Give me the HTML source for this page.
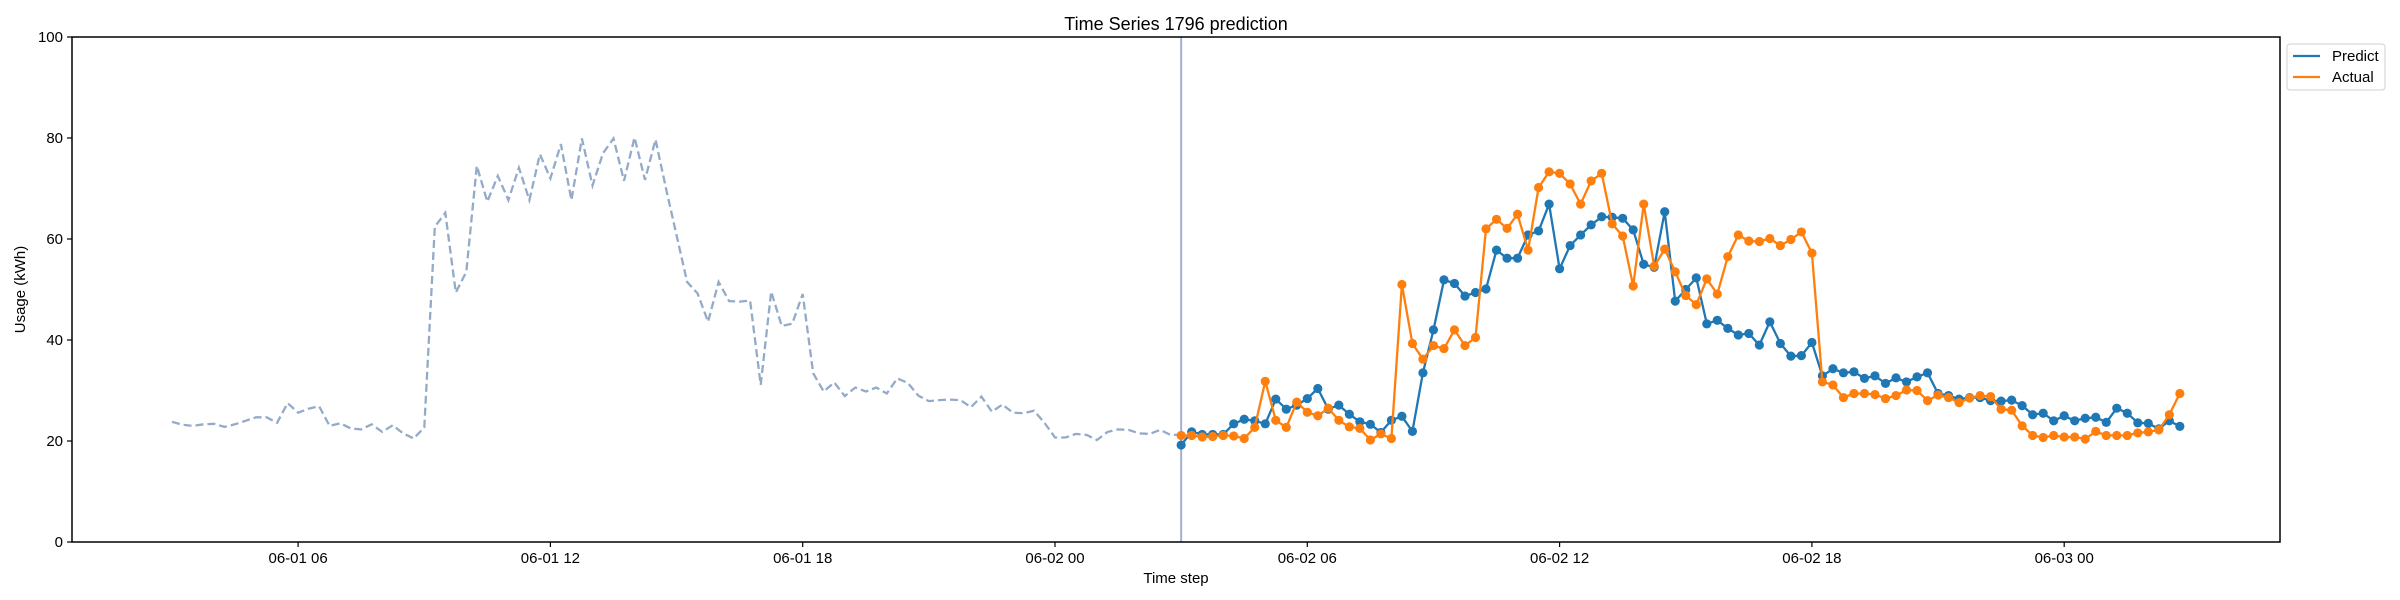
<!DOCTYPE html>
<html><head><meta charset="utf-8"><title>Time Series 1796 prediction</title>
<style>
html,body{margin:0;padding:0;background:#fff;}
svg{display:block;font-family:"Liberation Sans","DejaVu Sans",sans-serif;}
</style></head>
<body>
<svg id="chart" width="2400" height="600" viewBox="0 0 2400 600" xmlns="http://www.w3.org/2000/svg">
<rect x="0" y="0" width="2400" height="600" fill="#fff"/>
<text x="1176" y="30" font-size="18" text-anchor="middle" fill="#000">Time Series 1796 prediction</text>
<g id="plot"></g>
<rect x="72" y="37" width="2208" height="505" fill="none" stroke="#000" stroke-width="1.5"/>
<g id="axes"></g>
<text x="1176" y="583" font-size="15" text-anchor="middle">Time step</text>
<text transform="translate(25,289.5) rotate(-90)" font-size="15" text-anchor="middle">Usage (kWh)</text>
<g>
<rect x="2287" y="44" width="98" height="46" rx="3" fill="#fff" stroke="#d0d0d0"/>
<line x1="2293" y1="56" x2="2320" y2="56" stroke="#1f77b4" stroke-width="2.3"/>
<text x="2332" y="61" font-size="15">Predict</text>
<line x1="2293" y1="77" x2="2320" y2="77" stroke="#ff7f0e" stroke-width="2.3"/>
<text x="2332" y="82" font-size="15">Actual</text>
</g>
</svg>
<script>
// history: 15-min steps from 06-01 03:00 (hour 3)
const historyValues = [23.8,23.2,23.0,23.3,23.4,22.8,23.3,24.0,24.7,24.7,23.6,27.5,25.6,26.4,26.9,23.0,23.5,22.5,22.3,23.3,21.8,23.1,21.5,20.5,22.7,62.4,65.2,49.4,53.5,74.5,67.4,72.5,67.7,74.1,67.7,76.8,72.0,78.8,67.7,79.9,70.6,77.0,79.9,71.5,80.1,71.7,79.7,70.0,60.8,51.5,49.2,43.6,51.5,47.7,47.6,47.8,31.1,49.6,42.8,43.2,49.1,33.4,29.8,31.6,28.9,30.6,29.8,30.6,29.4,32.4,31.5,29.0,27.9,28.1,28.2,28.1,26.7,28.8,25.8,27.2,25.6,25.5,26.0,23.6,20.7,20.7,21.4,21.2,20.2,21.8,22.3,22.2,21.5,21.4,22.2,21.2,21.2];
// forecast: 15-min steps from 06-02 03:00 (hour 27)
const predictValues = [19.2,21.8,21.3,21.3,21.3,23.4,24.3,24.0,23.4,28.3,26.3,27.1,28.4,30.4,26.3,27.1,25.3,23.8,23.3,21.7,24.1,24.9,21.9,33.5,42.0,51.9,51.2,48.7,49.4,50.1,57.8,56.2,56.2,60.8,61.6,66.9,54.1,58.7,60.8,62.8,64.4,64.3,64.1,61.8,55.0,54.4,65.4,47.7,50.0,52.3,43.2,43.9,42.3,41.0,41.3,39.0,43.6,39.3,36.8,36.9,39.5,32.9,34.3,33.5,33.7,32.4,32.9,31.4,32.5,31.7,32.7,33.5,29.4,29.0,28.3,28.6,28.6,28.0,27.9,28.1,27.0,25.2,25.5,24.0,25.0,24.0,24.5,24.7,23.7,26.5,25.5,23.6,23.5,22.4,24.0,22.9];
const actualValues = [21.1,21.1,20.8,20.9,21.1,21.0,20.5,22.7,31.8,24.1,22.7,27.7,25.7,25.0,26.5,24.1,22.8,22.5,20.2,21.4,20.5,51.0,39.3,36.2,38.9,38.3,42.0,38.9,40.5,62.0,63.9,62.1,64.9,57.8,70.2,73.3,73.0,70.9,66.9,71.5,73.0,63.0,60.6,50.7,66.9,54.6,58.0,53.5,48.8,47.0,52.1,49.1,56.5,60.8,59.6,59.5,60.1,58.7,59.9,61.4,57.2,31.7,31.1,28.6,29.4,29.4,29.2,28.4,29.0,30.1,30.0,28.0,29.1,28.6,27.6,28.5,29.0,28.8,26.3,26.1,23.0,21.1,20.7,21.1,20.8,20.8,20.4,21.9,21.1,21.1,21.1,21.6,21.8,22.2,25.2,29.4];
const yTicks = [0,20,40,60,80,100];
const xTickHours = [6,12,18,24,30,36,42,48];
const xTickLabels = ["06-01 06","06-01 12","06-01 18","06-02 00","06-02 06","06-02 12","06-02 18","06-03 00"];
const historyStartHour = 3;
const forecastStartHour = 27;
const stepHours = 0.25;

const NS = "http://www.w3.org/2000/svg";
function xScale(h){ return 1055 + (h - 24) * 42.05; }
function yScale(v){ return 542 - v * 5.05; }
function mk(tag, attrs, parent){
  const e = document.createElementNS(NS, tag);
  for (const k in attrs) e.setAttribute(k, attrs[k]);
  parent.appendChild(e);
  return e;
}
const plot = document.getElementById('plot');
const axes = document.getElementById('axes');

// vertical forecast-start line
const vl = mk('line', {x1: xScale(forecastStartHour), x2: xScale(forecastStartHour), y1: 37, y2: 542, stroke: '#a4b0d2', 'stroke-width': 2}, plot);



// history dashed line
const hp = historyValues.map((v,i)=> xScale(historyStartHour + i*stepHours).toFixed(1)+','+yScale(v).toFixed(1)).join(' ');
const hl = mk('polyline', {points: hp, fill: 'none', stroke: '#93abc9', 'stroke-width': 2.3, 'stroke-dasharray': '8,4'}, plot);



function series(values, color, name){
  const g = mk('g', {}, plot);
  
  
  const pts = values.map((v,i)=> xScale(forecastStartHour + i*stepHours).toFixed(1)+','+yScale(v).toFixed(1)).join(' ');
  const l = mk('polyline', {points: pts, fill: 'none', stroke: color, 'stroke-width': 2.3, 'stroke-linejoin': 'round'}, g);
  
  
  values.forEach((v,i)=>{
    const c = mk('circle', {cx: xScale(forecastStartHour + i*stepHours), cy: yScale(v), r: 4.6, fill: color}, g);
    
    
  });
}
series(predictValues, '#1f77b4', 'predict');
series(actualValues, '#ff7f0e', 'actual');

// y axis ticks
yTicks.forEach(t=>{
  const y = yScale(t);
  const tk = mk('line', {x1: 67, x2: 72, y1: y, y2: y, stroke: '#000', 'stroke-width': 1.2}, axes);
  
  
  const tx = mk('text', {x: 63, y: y + 5, 'font-size': 15, 'text-anchor': 'end'}, axes);
  tx.textContent = String(t);
  
  
});
// x axis ticks
xTickHours.forEach((h,i)=>{
  const x = xScale(h);
  const tk = mk('line', {x1: x, x2: x, y1: 542, y2: 547, stroke: '#000', 'stroke-width': 1.2}, axes);
  
  
  const tx = mk('text', {x: x, y: 563, 'font-size': 15, 'text-anchor': 'middle'}, axes);
  tx.textContent = xTickLabels[i];
  
  
});
</script>
</body></html>
